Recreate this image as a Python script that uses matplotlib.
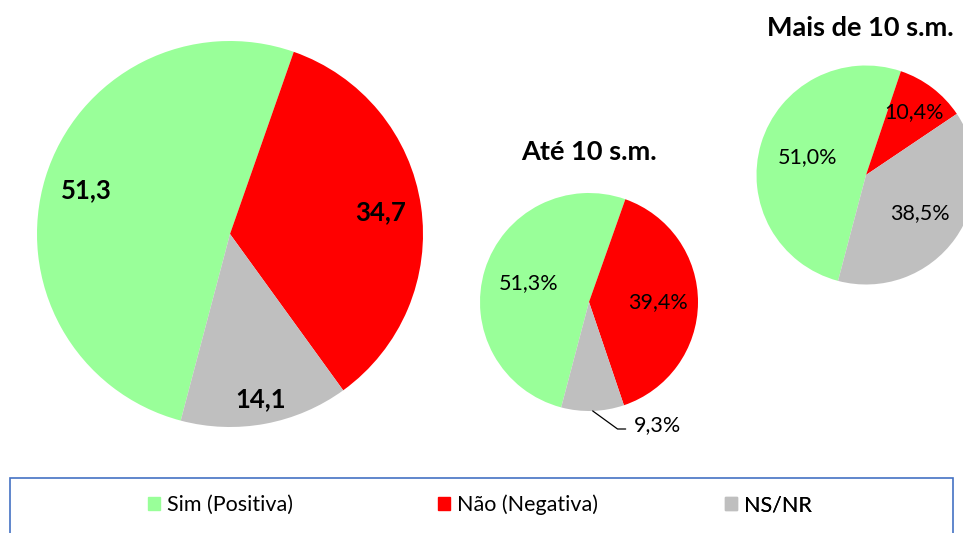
import numpy as np
import matplotlib.pyplot as plt
from matplotlib.patches import Rectangle

# dados (%)
categorias = ["Sim (Positiva)", "Não (Negativa)", "NS/NR"]
cores = ["#99FF99", "#FF0000", "#BFBFBF"]

total = [51.3, 34.7, 14.1]
ate_10 = [51.3, 39.4, 9.3]
mais_10 = [51.0, 10.4, 38.5]

rotulos_total = ["51,3", "34,7", "14,1"]
rotulos_ate_10 = ["51,3%", "39,4%", "9,3%"]
rotulos_mais_10 = ["51,0%", "10,4%", "38,5%"]

titulo_ate_10 = "Até 10 s.m."
titulo_mais_10 = "Mais de 10 s.m."

plt.rcParams['font.family'] = ['Lato', 'DejaVu Sans']

W, H = 963, 533
fig = plt.figure(figsize=(W / 100, H / 100), dpi=100)
ax = fig.add_axes([0, 0, 1, 1])


def px(x, y):
    # pixel (origem no topo) -> coordenadas dos dados
    return x, H - y


def desenha_pizza(valores, rotulos, centro, raio, dists, tamanho, negrito=False):
    wedges, _ = ax.pie(valores, colors=cores, startangle=-104.8, counterclock=False,
                       center=px(*centro), radius=raio,
                       wedgeprops=dict(linewidth=0))
    cx, cy = px(*centro)
    for w, rot, d in zip(wedges, rotulos, dists):
        if d is None:
            continue
        ang = np.deg2rad((w.theta1 + w.theta2) / 2)
        ax.text(cx + raio * d * np.cos(ang), cy + raio * d * np.sin(ang), rot,
                ha='center', va='center', fontsize=tamanho,
                fontweight='bold' if negrito else 'normal', color='black')
    return wedges


desenha_pizza(total, rotulos_total, (230, 234), 193, [0.78, 0.79, 0.87], 18.5, negrito=True)
w_ate = desenha_pizza(ate_10, rotulos_ate_10, (589, 302), 109, [0.58, 0.63, None], 15.5)
desenha_pizza(mais_10, rotulos_mais_10, (866, 175), 109.5, [0.56, 0.72, 0.6], 15.5)

# rótulo externo com linha de chamada (9,3%)
w = w_ate[2]
ang = np.deg2rad((w.theta1 + w.theta2) / 2)
cx, cy = px(589, 302)
ponta = (cx + 109 * np.cos(ang), cy + 109 * np.sin(ang))
ax.annotate(rotulos_ate_10[2], xy=ponta, xytext=px(634, 425),
            ha='left', va='center', fontsize=15.5,
            arrowprops=dict(arrowstyle='-', color='black', lw=0.9,
                            connectionstyle='angle,angleA=0,angleB=-36',
                            relpos=(0, 0.3), shrinkA=4, shrinkB=0))

# títulos das pizzas menores
ax.text(*px(589, 152), titulo_ate_10, ha='center', va='center', fontsize=19.5, fontweight='bold')
ax.text(*px(860, 28), titulo_mais_10, ha='center', va='center', fontsize=19.5, fontweight='bold')

ax.set_xlim(0, W)
ax.set_ylim(0, H)
ax.set_aspect('equal')
ax.axis('off')

# caixa da legenda
ax.add_patch(Rectangle(px(10, 538), 943, 60, fill=False, edgecolor='#4472C4', lw=1.2,
                       clip_on=False))

# itens da legenda
legend_x = [148, 438, 725]
for i, (cat, xl) in enumerate(zip(categorias, legend_x)):
    h = plt.Rectangle((0, 0), 1, 1, color=cores[i])
    leg = ax.legend([h], [cat], loc='center left', bbox_to_anchor=px(xl, 505),
                    bbox_transform=ax.transData, frameon=False, fontsize=15.5,
                    handlelength=0.58, handleheight=0.58, handletextpad=0.3,
                    borderpad=0, borderaxespad=0)
    ax.add_artist(leg)

fig.savefig("out.png", dpi=100)
